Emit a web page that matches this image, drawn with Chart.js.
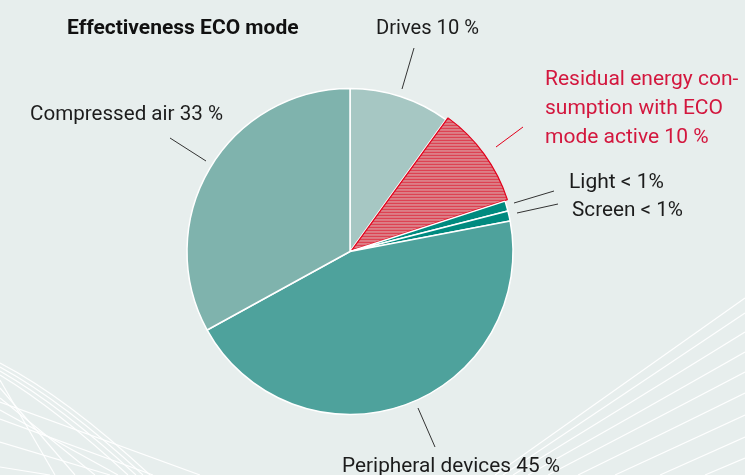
<!DOCTYPE html>
<html>
<head>
<meta charset="utf-8">
<script src="https://cdn.jsdelivr.net/npm/chart.js@4.4.0/dist/chart.umd.min.js"></script>
<style>
  html, body { margin: 0; padding: 0; background: #e7eeed; }
  canvas { display: block; }
</style>
</head>
<body>
<canvas id="ecoChart" width="745" height="475"></canvas>
<script>
const title = "Effectiveness ECO mode";
const categories = ["Drives", "Residual energy consumption with ECO mode active", "Light", "Screen", "Peripheral devices", "Compressed air"];
const shares = [10, 10, 1, 1, 45, 33];
const shareText = ["10 %", "10 %", "< 1%", "< 1%", "45 %", "33 %"];
const colors = ["#a6c7c3", "hatch", "#008a7f", "#008a7f", "#4ea29c", "#7fb3ad"];

// label placement: text lines, baseline x/y, max width, leader line
const labelSpots = [
  { lines: ["Drives " + shareText[0]], x: 376, y: 34, w: 103, from: [414, 48], to: [402, 89] },
  { lines: ["Residual energy con-", "sumption with ECO", "mode active " + shareText[1]], x: 545, y: 85, lh: 29, w: 196, red: true, from: [523, 127], to: [496, 147] },
  { lines: ["Light " + shareText[2]], x: 569, y: 188, w: 95, from: [554, 191], to: [514, 203] },
  { lines: ["Screen " + shareText[3]], x: 572, y: 216, w: 111, from: [558, 204], to: [517, 213] },
  { lines: ["Peripheral devices " + shareText[4]], x: 342, y: 472, w: 218, from: [418, 408], to: [435, 447] },
  { lines: ["Compressed air " + shareText[5]], x: 30, y: 120, w: 193, from: [170, 138], to: [206, 161] }
];

function makeHatch(ctx) {
  const c = document.createElement("canvas");
  c.width = 4; c.height = 3;
  const g = c.getContext("2d");
  g.fillStyle = "#dc7f87";
  g.fillRect(0, 0, 4, 3);
  g.fillStyle = "#de3a4b";
  g.fillRect(0, 0, 4, 1);
  return ctx.createPattern(c, "repeat");
}

// background and the thin white decoration in the corners
const backdrop = {
  id: "backdrop",
  beforeDraw(chart) {
    const c = chart.ctx;
    c.save();
    c.fillStyle = "#e7eeed";
    c.fillRect(0, 0, chart.width, chart.height);
    c.strokeStyle = "rgba(255,255,255,0.95)";
    c.lineWidth = 1.2;
    // bottom left
    [[363, 150], [367, 143], [371, 136], [375, 128]].forEach(([y0, x1]) => {
      c.beginPath();
      c.moveTo(0, y0);
      c.quadraticCurveTo(x1 * 0.45, y0 + 35, x1, 475);
      c.stroke();
    });
    [[380, 55], [388, 75], [398, 95], [410, 118]].forEach(([y0, x1]) => {
      c.beginPath(); c.moveTo(0, y0); c.lineTo(x1, 475); c.stroke();
    });
    [[402, 200], [419, 153], [442, 110], [467, 50]].forEach(([y0, x1]) => {
      c.beginPath(); c.moveTo(0, y0); c.lineTo(x1, 475); c.stroke();
    });
    // bottom right
    const rightY = [298, 313, 332, 352, 372, 393, 415, 437, 458];
    const bottomX = [495, 503, 513, 528, 548, 578, 615, 660, 705];
    rightY.forEach((y, i) => {
      c.beginPath(); c.moveTo(bottomX[i], 475); c.lineTo(745, y); c.stroke();
    });
    c.restore();
  }
};

const annotations = {
  id: "annotations",
  afterDraw(chart) {
    const c = chart.ctx;
    c.save();
    c.fillStyle = "#111";
    c.font = "bold 21px Roboto";
    c.textBaseline = "alphabetic";
    c.fillText(title, 67, 34, 236);
    c.font = "21px Roboto";
    labelSpots.forEach((s) => {
      c.fillStyle = s.red ? "#d3173e" : "#1c1c1c";
      s.lines.forEach((t, i) => c.fillText(t, s.x, s.y + i * (s.lh || 0), s.w));
      c.beginPath();
      c.moveTo(s.from[0], s.from[1]);
      c.lineTo(s.to[0], s.to[1]);
      c.strokeStyle = s.red ? "#e3001b" : "#333";
      c.lineWidth = 1;
      c.stroke();
    });
    c.restore();
  }
};

const ctx = document.getElementById("ecoChart").getContext("2d");
const hatch = makeHatch(ctx);

new Chart(ctx, {
  type: "pie",
  data: {
    labels: categories,
    datasets: [{
      data: shares,
      backgroundColor: colors.map((col) => col === "hatch" ? hatch : col),
      borderColor: colors.map((col) => col === "hatch" ? "#e3001b" : "#ffffff"),
      borderWidth: colors.map((col) => col === "hatch" ? 1.2 : 1.5),
      offset: colors.map((col) => col === "hatch" ? 8 : 0),
      radius: 163
    }]
  },
  options: {
    responsive: false,
    animation: false,
    events: [],
    layout: { padding: { left: 0, right: 45, top: 28, bottom: 0 } },
    plugins: {
      legend: { display: false },
      tooltip: { enabled: false },
      title: { display: false }
    }
  },
  plugins: [backdrop, annotations]
});
</script>
</body>
</html>
